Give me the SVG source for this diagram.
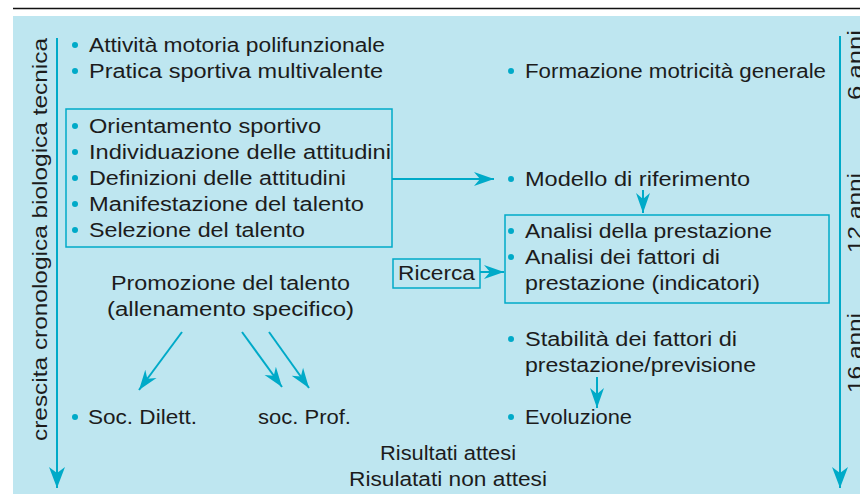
<svg xmlns="http://www.w3.org/2000/svg" width="860" height="494" viewBox="0 0 860 494">
<defs>
<style>
text{font-family:"Liberation Sans",Arial,sans-serif;font-size:20px;fill:#1c1c1c}
.ln{stroke:#00aac8;stroke-width:2;fill:none}
.box{stroke:#00aac8;stroke-width:1.5;fill:none}
.dot{fill:#00aac8}
</style>
<marker id="ah" markerWidth="22" markerHeight="16" refX="20" refY="8" orient="auto" markerUnits="userSpaceOnUse"><path d="M0,1 L20,8 L0,15 L6,8 z" fill="#00aac8"/></marker>
<marker id="ahb" markerWidth="22" markerHeight="18" refX="21" refY="9" orient="auto" markerUnits="userSpaceOnUse"><path d="M0,1 L21,9 L0,17 L6,9 z" fill="#00aac8"/></marker>
</defs>
<rect x="0" y="0" width="860" height="494" fill="#ffffff"/>
<line x1="13" y1="8.5" x2="860" y2="8.5" stroke="#111" stroke-width="1.6"/>
<rect x="13" y="16" width="847" height="478" fill="#bee6f0"/>

<g id="axis-left">
<text transform="translate(47,441) rotate(-90)" textLength="403" lengthAdjust="spacingAndGlyphs">crescita cronologica biologica tecnica</text>
</g>
<g id="axis-right">
<text transform="translate(862,100) rotate(-90)" textLength="70" lengthAdjust="spacingAndGlyphs">6 anni</text>
<text transform="translate(862,253) rotate(-90)" textLength="80" lengthAdjust="spacingAndGlyphs">12 anni</text>
<text transform="translate(862,393) rotate(-90)" textLength="80" lengthAdjust="spacingAndGlyphs">16 anni</text>
</g>

<g id="n-top">
<circle class="dot" cx="75" cy="45" r="3"/>
<text x="89" y="52" textLength="296" lengthAdjust="spacingAndGlyphs">Attività motoria polifunzionale</text>
<circle class="dot" cx="75" cy="71" r="3"/>
<text x="89" y="78" textLength="294" lengthAdjust="spacingAndGlyphs">Pratica sportiva multivalente</text>
</g>
<g id="n-formazione">
<circle class="dot" cx="511" cy="71" r="3"/>
<text x="525" y="78" textLength="301" lengthAdjust="spacingAndGlyphs">Formazione motricità generale</text>
</g>

<g id="n-orientamento">
<rect class="box" x="66" y="109" width="326" height="138"/>
<circle class="dot" cx="75" cy="126" r="3"/>
<text x="89" y="133" textLength="232" lengthAdjust="spacingAndGlyphs">Orientamento sportivo</text>
<circle class="dot" cx="75" cy="152" r="3"/>
<text x="89" y="159" textLength="302" lengthAdjust="spacingAndGlyphs">Individuazione delle attitudini</text>
<circle class="dot" cx="75" cy="178" r="3"/>
<text x="89" y="185" textLength="257" lengthAdjust="spacingAndGlyphs">Definizioni delle attitudini</text>
<circle class="dot" cx="75" cy="204" r="3"/>
<text x="89" y="211" textLength="275" lengthAdjust="spacingAndGlyphs">Manifestazione del talento</text>
<circle class="dot" cx="75" cy="230" r="3"/>
<text x="89" y="237" textLength="216" lengthAdjust="spacingAndGlyphs">Selezione del talento</text>
</g>

<g id="n-modello">
<circle class="dot" cx="511" cy="179" r="3"/>
<text x="525" y="186" textLength="225" lengthAdjust="spacingAndGlyphs">Modello di riferimento</text>
</g>

<g id="n-analisi">
<rect class="box" x="505" y="215" width="324" height="88"/>
<circle class="dot" cx="511" cy="231" r="3"/>
<text x="525" y="238" textLength="247" lengthAdjust="spacingAndGlyphs">Analisi della prestazione</text>
<circle class="dot" cx="511" cy="257" r="3"/>
<text x="525" y="264" textLength="195" lengthAdjust="spacingAndGlyphs">Analisi dei fattori di</text>
<text x="525" y="290" textLength="235" lengthAdjust="spacingAndGlyphs">prestazione (indicatori)</text>
</g>

<g id="n-ricerca">
<rect class="box" x="393" y="259" width="87" height="29"/>
<text x="398" y="280" textLength="77" lengthAdjust="spacingAndGlyphs">Ricerca</text>
</g>

<g id="n-promozione">
<text x="111" y="290" textLength="239" lengthAdjust="spacingAndGlyphs">Promozione del talento</text>
<text x="107" y="316" textLength="247" lengthAdjust="spacingAndGlyphs">(allenamento specifico)</text>
</g>

<g id="n-stabilita">
<circle class="dot" cx="511" cy="339" r="3"/>
<text x="525" y="346" textLength="212" lengthAdjust="spacingAndGlyphs">Stabilità dei fattori di</text>
<text x="525" y="372" textLength="231" lengthAdjust="spacingAndGlyphs">prestazione/previsione</text>
</g>

<g id="n-dilett">
<circle class="dot" cx="75" cy="417" r="3"/>
<text x="88" y="424" textLength="109" lengthAdjust="spacingAndGlyphs">Soc. Dilett.</text>
</g>
<g id="n-prof">
<text x="258" y="424" textLength="93" lengthAdjust="spacingAndGlyphs">soc. Prof.</text>
</g>
<g id="n-evoluzione">
<circle class="dot" cx="511" cy="417" r="3"/>
<text x="525" y="424" textLength="107" lengthAdjust="spacingAndGlyphs">Evoluzione</text>
</g>

<g id="n-risultati">
<text x="380" y="460" textLength="136" lengthAdjust="spacingAndGlyphs">Risultati attesi</text>
<text x="349" y="486" textLength="198" lengthAdjust="spacingAndGlyphs">Risulatati non attesi</text>
</g>

<g id="connectors">
<line class="ln" x1="57" y1="38" x2="57" y2="488" marker-end="url(#ahb)"/>
<line class="ln" x1="840" y1="36" x2="840" y2="488" marker-end="url(#ahb)"/>
<line class="ln" x1="392" y1="179" x2="494" y2="179" marker-end="url(#ah)"/>
<line class="ln" x1="643" y1="190" x2="643" y2="213" marker-end="url(#ah)"/>
<line class="ln" x1="480" y1="272" x2="504" y2="272" marker-end="url(#ah)"/>
<line class="ln" x1="182" y1="332" x2="139" y2="390" marker-end="url(#ah)"/>
<line class="ln" x1="242" y1="332" x2="282" y2="387" marker-end="url(#ah)"/>
<line class="ln" x1="269" y1="332" x2="309" y2="388" marker-end="url(#ah)"/>
<line class="ln" x1="597" y1="377" x2="597" y2="408" marker-end="url(#ah)"/>
</g>
</svg>
